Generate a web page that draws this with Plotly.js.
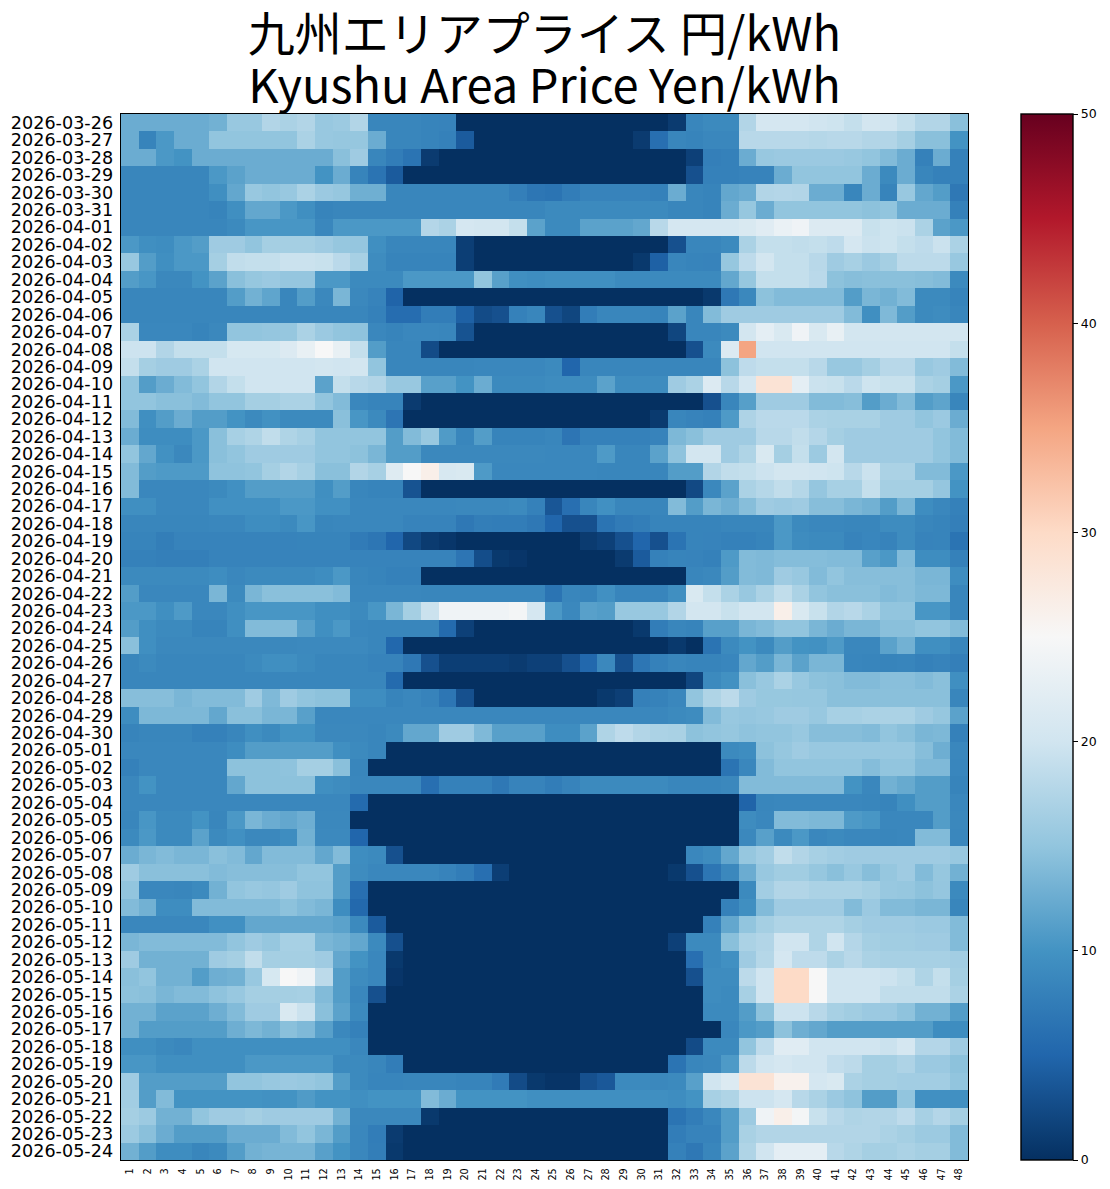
<!DOCTYPE html>
<html><head><meta charset="utf-8">
<script src="https://cdn.plot.ly/plotly-3.0.1.min.js"></script>
<style>html,body{margin:0;padding:0;background:#fff}#c{width:1110px;height:1189px}</style>
</head><body><div id="c"></div>
<script>
const hours = ['1','2','3','4','5','6','7','8','9','10','11','12','13','14','15','16','17','18','19','20','21','22','23','24','25','26','27','28','29','30','31','32','33','34','35','36','37','38','39','40','41','42','43','44','45','46','47','48'];
const dates = ['2026-03-26','2026-03-27','2026-03-28','2026-03-29','2026-03-30','2026-03-31','2026-04-01','2026-04-02','2026-04-03','2026-04-04','2026-04-05','2026-04-06','2026-04-07','2026-04-08','2026-04-09','2026-04-10','2026-04-11','2026-04-12','2026-04-13','2026-04-14','2026-04-15','2026-04-16','2026-04-17','2026-04-18','2026-04-19','2026-04-20','2026-04-21','2026-04-22','2026-04-23','2026-04-24','2026-04-25','2026-04-26','2026-04-27','2026-04-28','2026-04-29','2026-04-30','2026-05-01','2026-05-02','2026-05-03','2026-05-04','2026-05-05','2026-05-06','2026-05-07','2026-05-08','2026-05-09','2026-05-10','2026-05-11','2026-05-12','2026-05-13','2026-05-14','2026-05-15','2026-05-16','2026-05-17','2026-05-18','2026-05-19','2026-05-20','2026-05-21','2026-05-22','2026-05-23','2026-05-24'];
const d0326=[12.5,12.5,12.5,12.5,12.5,13,15.5,15.5,17.5,17,17.5,15.5, 15.8,17.5,8.5,8.5,8.5,8.3,8.2,0,0,0,0,0, 0,0,0,0,0,0,0,1,8.5,9,9,17.5, 20.5,20.5,20.5,20,19.8,19,20.2,20,19,17.5,17.5,14.5];
const d0327=[12.5,8.3,10.5,12.5,12.5,15,15,15,15,15,17,15.5, 15.3,15.3,12.5,8.5,8.5,8.3,8,4,0,0,0,0, 0,0,0,0,0,1,6,8.5,8.3,8.7,8.7,18, 18,18,18,17.8,18,18,17.5,17.5,16.5,14.5,14.5,10];
const d0328=[12.5,12.5,10.5,10,12.5,12.5,12.5,12.5,12.5,12.5,12.5,12.5, 14.5,16,8.5,7.5,6.5,1,0,0,0,0,0,0, 0,0,0,0,0,0,0,0,1.5,7.8,8,12.5, 15.5,15.7,15.7,15.7,15.7,15.5,15,14,12.5,8,12.5,8];
const d0329=[8.5,8.5,8.5,8.5,8.5,10.5,11.5,12.5,12.5,12.5,12.5,10, 12.5,8.3,6.5,4,0,0,0,0,0,0,0,0, 0,0,0,0,0,0,0,0,3,8,8,8.2, 8.2,12.5,15,15,15,15,12.5,9,12.5,8.5,8,8];
const d0330=[8.5,8.5,8.5,8.5,8.5,9.5,12,15.5,15,15.5,17,15.7, 15.3,12.8,12.8,8.5,8.5,8.5,8.5,8.5,8.5,8.5,7.8,6.8, 6.5,7.5,8.2,8.2,8.2,8.2,8,12.5,8.5,8.3,12,12.5, 17.5,17.7,17.5,12.5,12.5,8.5,12.5,8.3,15.5,12,11,7];
const d0331=[8.5,8.5,8.5,8.5,8.5,8.3,9.5,12,12,10.5,9.5,8.3, 8.5,8.5,8.5,8.5,8.5,8.5,8.5,8.5,8.5,8.5,8.5,8.5, 9,9,9,9,9,9,9,8.5,8.5,8.3,12.5,15.3, 12.5,15,15,15,15,15,14.7,15,12.5,12.5,12.5,8];
const d0401=[8.5,8.5,8.5,8.5,8.5,8.5,9,10.3,10.3,10.3,10.3,8.7, 10.5,10.5,10.5,10.5,10.5,17.7,17,20.5,20.2,20.2,19,11.5, 9,9,11.5,11.5,11.5,12,18,20.5,20.5,20.5,20.5,21, 22,23.3,24,21.5,21.5,21.5,19.3,19.8,19.5,17,11.5,10.5];
const d0402=[10.5,9.5,9.3,10.5,11,16,16,15,16.5,16.5,16.5,16, 15.3,15.2,9.5,8.5,8.5,8.5,8.5,1.3,0,0,0,0, 0,0,0,0,0,0,0,3,8.5,8.5,9,17, 19,19,18.7,19,18.5,20.5,19.5,19.8,19,18.5,19.5,17];
const d0403=[15.5,11,9.5,10.5,10.5,16.5,18.7,19,19,19.5,19.5,19.3, 18.2,16.7,9.2,8.3,8.3,8.3,8.3,1.3,0,0,0,0, 0,0,0,0,0,.8,4.5,8.5,8.3,8.2,15.3,18.5, 20.2,19,19,18,16,16.7,15.7,16.5,18.3,18.3,18.3,15.5];
const d0404=[11,10.3,8.8,8.8,10,11.5,14.5,15.3,15.7,15.2,15.2,10.5, 10.5,9,9,9,10.5,10.5,10.5,10.5,15,11.3,9.5,9.3, 9.5,9.5,9.5,9.5,9,9,9,9,9,9,12,15.3, 19,19,19,18.2,14.7,14.3,14.5,14.5,14.5,14.3,14,9];
const d0405=[8.5,8.5,8.5,8.5,8.5,8.5,11,13,11.8,8.5,11,8.8, 13.5,8.8,8.2,4.8,0,0,0,0,0,0,0,0, 0,0,0,0,0,0,0,0,0,.8,7,8.8, 14.7,14,14,14,14,11,13.5,13,14,9,9,8.3];
const d0406=[8.5,8.5,8.5,8.5,8.5,8.5,8.5,8.5,8.5,8.5,8.5,8.5, 8.5,8.5,8,5.8,5.8,7.5,7.5,4.5,2.5,3,8,8.5, 3,2,7.5,8.5,8.5,8.5,8.3,11.5,8.5,14,16,16, 16,16,16,16,16,14,9.5,13.8,11,9,9.2,8.5];
const d0407=[17,8.7,8.7,8.7,8.3,8.8,15,15,15.2,15.3,17,15.7, 15,14.8,8.7,8.3,8.7,8.7,8.5,3.2,0,0,0,0, 0,0,0,0,0,0,0,2,8.5,8.5,9,20.3, 22.5,21,24,21,23,20.3,20.3,20.3,20.3,20.3,20.3,20.3];
const d0408=[19.7,19.7,17.5,19,19,19,20.7,20.7,20.7,21.5,23,25, 23,19,11,8.5,8.5,2.5,0,0,0,0,0,0, 0,0,0,0,0,0,0,0,3,9,21.5,35, 20,20,20,20,20,20,20,20,20,20,20,19];
const d0409=[19,16.5,16,16,17,20,20,20,20,20,20,20.2, 20,20.2,15,8.5,8.5,8.5,8.5,8.5,8.7,8.7,8.7,8.7, 9,5,8.5,8.5,8.5,8.5,8.5,8.5,8.5,8.5,14.7,18.5, 19,19,19,18,15.5,15.5,16.5,18,18,15.5,16,14];
const d0410=[15,11,12.5,14,15,17.5,19,20,20,20,20,11.5, 19,18,17.5,15.5,15.5,11.3,11.3,10,12.5,9,9,9, 9.2,9.2,9.2,11.5,9.2,9.2,9.2,16,17,21.5,18,20.5, 28.5,28.5,22.5,19.5,19.3,18.2,19.8,19.3,19.3,17,16.5,10.5];
const d0411=[15,15,14.5,14.5,14,15,15,16.5,16.5,17,17,15, 14,8.7,8.3,8.3,1,0,0,0,0,0,0,0, 0,0,0,0,0,0,0,0,0,3,8.5,11.2, 16,16,16,14,14,14.3,11,12.5,14,11,11.7,8.5];
const d0412=[14,9.5,11,12.5,11,11,10,9,9.8,9,9,9, 14.5,10.3,9,6.7,0,0,0,0,0,0,0,0, 0,0,0,0,0,0,.9,8.5,8.2,8,10.7,17.2, 18.2,18.2,18.2,17,16.8,16.8,16.8,16,16,15,15.7,12.5];
const d0413=[12.5,9.3,9.3,9.3,10.5,14.5,16.7,17.3,18.7,17.3,16.7,15, 15,15,15,11,14,15.5,10.8,8.5,11,8.3,8.3,8.3, 8.5,6.7,8,8,8,8,8.2,13.7,14.5,16,16,16, 18,18,18.7,17.7,16.5,16,16,16,16,16,15,14];
const d0414=[15,12,9.8,8.8,10.5,14.5,15,16,16,16,16,15, 15,14.7,13.5,11,11,8.8,8.8,8.8,8.8,8.8,8.8,8.8, 8.7,8.7,8.7,10.7,8.5,8.5,11.5,14.8,20.3,20.3,16,17.3, 21,16.5,19,15.8,20.3,16,16,16,16,16,15,14];
const d0415=[14,11,10.7,10.7,10.7,14.8,14.8,15,16.5,17.5,16.7,14.5, 14.5,17.5,16.7,21.7,25,26.5,20.8,21,10.7,8.7,8.7,8.7, 8.7,8.7,8.7,8.5,8.5,8.5,8.5,11,11,17.5,18.7,19, 19.7,20.3,20.3,20,19.8,18,19.5,17,17,14,14,10.5];
const d0416=[14,8.7,8.7,8.7,8.7,9,9.7,11,11,11,11,9.5, 11,8.5,8.3,8.3,3.2,0,0,0,0,0,0,0, 0,0,0,0,0,0,0,0,2.3,8.8,11.5,17, 17.8,18.7,17.8,15.2,16.7,16.7,19,16.5,16.5,16.5,15.2,10];
const d0417=[9.5,9.5,8.7,8.7,8.7,9.7,9.7,9.7,9.7,10.5,10.5,9.7, 9.7,8.7,8.7,8.7,8.7,8.7,8.7,8.8,8.8,8.8,9,8, 3.5,6,8.5,9.7,8.5,8.5,8.5,14,11,13.5,12.7,14.3, 16,15.7,16,14.3,14.3,13.5,13,11,13.5,9.3,8.7,8];
const d0418=[8.5,8.5,8.5,8.5,8.5,8.7,8.7,9.3,9.3,9,10.3,8.5, 8.7,8.7,8.7,8.7,8.2,8.2,8.2,7,7.7,7.5,7.5,7, 5,3,3,6.5,7.3,7.7,8.3,8.3,8.3,8.3,8.5,8.5, 8.5,10.5,9,8.7,8.7,8.5,8.5,9.2,9.2,8.5,8.3,7.8];
const d0419=[8.3,8.3,7.7,8.2,8.2,8.2,8.2,8.2,8.2,8.2,8.3,8.3, 8.3,7.3,6.8,5,2.2,1,.6,0,0,0,0,0, 0,0,1,1.5,3,5,3,6.5,8.3,8.2,8,8, 8.3,10.5,9.2,9,9,8.2,8.6,8.2,9.2,8.2,8.3,6.5];
const d0420=[8,8,7.8,7.8,7.8,8.2,8.2,8.2,8.2,8.2,8.2,8.2, 8.2,8.2,8.2,8.2,8.2,8.2,8.2,6.7,2.7,.8,.5,0, 0,0,0,0,1,4,8,8.3,8.2,8,10.7,14, 13.8,14.2,14.2,14.2,14,14,11.3,10.5,14,9.3,9.3,8];
const d0421=[9,9,9,9,9,9.3,8.7,9,9,9,9,9.3, 10.5,8.5,8.3,8,8,0,0,0,0,0,0,0, 0,0,0,0,0,0,0,0,8.5,8.8,11,14, 13.8,16,15.5,14,15,14.3,14.3,14.3,14.3,13.5,13.5,9.3];
const d0422=[11,8.7,8.7,8.7,8.7,13.5,9,13.5,14.5,14.5,14.5,14.5, 14,8.7,8.7,8.7,8.7,8.5,8.5,8.5,8.5,8.5,8.5,8.5, 6.5,8.5,8.3,9.7,8.4,8.4,8.4,9.5,21,19,17,15.5, 17,18.7,17,15,14.5,14.5,14.5,14,14.3,13.7,13.7,8.5];
const d0423=[10.5,10.5,9.5,10.7,8.7,8.7,9.5,10.3,10.3,10.3,10.3,9.5, 9.5,9,10.3,13.5,16.5,19.5,24,24,24,24,24.5,20.5, 10.5,8.8,11.3,11,15.5,15.5,15.5,17.5,20.3,20.3,19.3,20.3, 20.3,26.5,21,19.3,17.5,18,17,15,15,10.3,10.3,8.5];
const d0424=[11,9.5,9,9,8.3,8.3,9.5,14,14,14,11.3,9.5, 10.5,8.7,8.5,8.5,8.5,8.5,5.5,1.5,0,0,0,0, 0,0,0,0,0,.8,7.5,8.5,8.3,11.3,11.3,13.5, 14,15,15,13.5,12.5,13.5,13.5,14.5,14.5,15,15,14];
const d0425=[14.5,9.5,8.8,8.8,8.8,8.8,8.8,8.8,8.8,8.8,8.9,8.9, 8.9,8.9,8.5,5.2,0,0,0,0,0,0,0,0, 0,0,0,0,0,0,0,.8,0,6.5,9,10, 9,11,10,9.8,10.7,8.7,8.7,11.5,13,9.5,9.5,8.5];
const d0426=[8.5,9,8.5,8.5,8.5,8.5,8.5,9,9.5,9.5,9,8.5, 8.5,8.5,8.2,8.2,7,3,1.3,1.3,1.3,1.3,1,1.5, 1.5,3,5.2,8.8,3,6.8,8,8.5,8.3,8.3,8.6,12, 11,13.5,11.5,13.5,13.5,8.6,8.4,8.3,8.4,8,8.2,7.8];
const d0427=[8.5,8.5,8.5,8.5,8.5,8.5,8.5,8.5,8.5,8.5,8.5,8.5, 8.5,8.5,8.5,5.5,0,0,0,0,0,0,0,0, 0,0,0,0,0,0,0,0,2,9,9.8,14.5, 15.5,17,15.5,14.7,14.5,14,14,14.4,14.4,14,14.5,9.5];
const d0428=[14.3,14.3,14.3,13.5,14,14,14,16,13.8,16,15,14.7, 14.7,9.3,9.3,8.3,8.7,8.2,6.8,3,0,0,0,0, 0,0,0,.8,1.4,7.9,8.1,8.7,15,17.3,18.3,16, 15.4,15.4,15.3,15.3,14.5,14.5,14.5,14.5,14.5,14.5,14.5,8.5];
const d0429=[9.3,13.7,13.7,13.7,13.7,12,14.5,14.5,13.5,13.5,11.3,8.7, 8.7,8.7,8.7,8.7,8.7,8.7,8.7,8.7,8.7,8.7,8.7,8.7, 8.7,8.7,8.7,8.7,8.7,8.7,8.7,9,9.2,14,15.5,15.2, 15.5,16,16,15.5,16.7,16.7,17,17,17,16,15.3,11.5];
const d0430=[8.3,8.5,8.5,8.5,8,8,8.5,9.5,9,10,10,8.8, 8.8,8.8,8.5,9,12,12,16,16,13.8,11.3,11.3,11.3, 9.3,9.3,11.5,17.3,18.5,17.5,17,16.8,14.7,15,15.3,14.8, 15,15,15.5,14.3,14.3,14.3,14,15,14.5,13.5,13.7,8];
const d0501=[8.7,8.7,8.7,8.7,8.7,8.7,9.3,11,11,11,11,11, 9.5,9,8.5,0,0,0,0,0,0,0,0,0, 0,0,0,0,0,0,0,0,0,0,9,9.3, 14.7,15.3,16,15.5,15.5,15.5,15.5,15.5,15.5,14.3,12.7,8.7];
const d0502=[8,8.7,8.7,8.7,8.7,8.7,14.7,14.7,14.7,14.8,16.5,16.5, 14.5,8.5,0,0,0,0,0,0,0,0,0,0, 0,0,0,0,0,0,0,0,0,0,6.5,8.7, 14,15,15,15,15,15,14.2,15,15,13.8,13.8,8.6];
const d0503=[8.7,10,8.7,8.7,8.7,8.7,12,14.7,14.7,14.7,14.7,9.5, 9.2,8.7,8.7,8.7,8.7,6,8,8,8,7,8.2,8.2, 7.5,8.2,9,9,9,9,9,8.5,8.5,8.5,8.8,14, 14,14,14,14,14,10,8.7,13,12.3,11,11,8.3];
const d0504=[8.7,8.7,8.7,8.7,8.7,8.7,8.7,8.7,8.7,8.7,8.7,8.7, 8.7,5.5,0,0,0,0,0,0,0,0,0,0, 0,0,0,0,0,0,0,0,0,0,0,4.8, 8.5,8.7,8.7,8.7,8.7,8.7,8.5,8.3,9.5,11,11,8.7];
const d0505=[8.5,10.3,9,9,10,8.5,10.5,13.5,12.5,12,12.7,8.8, 8.8,0,0,0,0,0,0,0,0,0,0,0, 0,0,0,0,0,0,0,0,0,0,0,9.2, 8.7,14,14,13.7,13.7,10.7,10.3,8.7,8.7,8.7,11,8.8];
const d0506=[9,10.5,9,9,11.5,9,9.7,8.8,8.8,9.3,13,8.9, 8.9,5,0,0,0,0,0,0,0,0,0,0, 0,0,0,0,0,0,0,0,0,0,0,8.8, 11.3,9,10.5,8.7,9,8.7,8.7,8.5,8.7,14,14,8.7];
const d0507=[12.5,13.5,14,13.5,13.5,14.5,14,12,14,14,14,12, 14,9.3,9,3,0,0,0,0,0,0,0,0, 0,0,0,0,0,0,0,0,8.7,9.2,12,15.3, 16.3,18.7,17.5,16.7,16.3,16,16,16,16,16,16,15.5];
const d0508=[16,14.5,14.5,14.5,14.5,14,14.3,14.3,14.3,14.3,15,15, 11,9.2,8.7,8.7,8.7,8.7,8.2,7.5,6,1.3,0,0, 0,0,0,0,0,0,0,.8,3,6.8,8.8,12.5, 15.5,16.2,16.2,15.3,14.5,15.5,14.3,15.3,16,14,15.3,13];
const d0509=[15,8.7,8.7,8.5,9,13,15,15.5,15.2,16,14.8,14.8, 11,6,0,0,0,0,0,0,0,0,0,0, 0,0,0,0,0,0,0,0,0,0,0,9, 16.3,17.5,17.5,17,17,17,16.5,15.5,15.3,14.7,15.2,9];
const d0510=[14,13,9.3,9.3,14,14,14,14,14,14.7,14,13.5, 9.3,5.3,0,0,0,0,0,0,0,0,0,0, 0,0,0,0,0,0,0,0,0,0,8,9.5, 14,16,16,16,16,14,15.7,14,14,13.5,13.5,8.5];
const d0511=[8.7,8.7,8.7,8.7,8.7,9.7,9.7,12,12,12,12,12, 11.5,9,4,0,0,0,0,0,0,0,0,0, 0,0,0,0,0,0,0,0,0,8,12,15, 16.5,17.3,17.3,17.3,17.3,16.5,16,16,16,15.7,15.7,14];
const d0512=[13.5,14,14,14,14,14,15,16,15.3,16.7,16.7,13.5, 13,12,9,3,0,0,0,0,0,0,0,0, 0,0,0,0,0,0,0,1.5,9,9,14.5,17, 17.5,20,20,17.3,20,17.7,16.5,16.2,16.2,16,16,14];
const d0513=[16,13,13,13,13,16,16.5,18.7,16.5,16.5,16.5,16, 12,10,8.7,.8,0,0,0,0,0,0,0,0, 0,0,0,0,0,0,0,0,6,9,9.7,16, 17.8,20.5,18.5,18.5,17,18,17,16.7,16.7,16.7,16.7,16.3];
const d0514=[14.5,15,13,13,11,12.7,13,15.5,20.7,25,24,18.3, 11,9.2,8.7,.5,0,0,0,0,0,0,0,0, 0,0,0,0,0,0,0,0,3,9.2,9.2,18.3, 20,30,30,25,20,20,20,19.7,19,17.3,19,16.5];
const d0515=[14.7,14.5,13.5,14,14,14.8,15.5,16.5,16.5,16.5,16.7,14, 11,8.7,3,0,0,0,0,0,0,0,0,0, 0,0,0,0,0,0,0,0,0,9.2,9,16.7, 20,30,30,25,20,20,20,18.7,18.7,18.7,18.7,17];
const d0516=[13,13,11.5,11.5,11.5,12.7,14,16,16,21,19.5,14.5, 11.5,9,0,0,0,0,0,0,0,0,0,0, 0,0,0,0,0,0,0,0,0,9,9,11, 14.7,19.7,19.7,18,16.7,16.2,15.7,15.7,14.8,13,13,11];
const d0517=[13,11,11,11,11,11,12.7,13.7,13,14.5,13.8,11.3, 8.8,8,0,0,0,0,0,0,0,0,0,0, 0,0,0,0,0,0,0,0,0,0,8.7,10.5, 11,14.7,12.7,12,11,11,11,11,11,11,9.3,9.3];
const d0518=[9.5,9.5,9,8.7,9.5,9.5,9.5,9.5,9.5,9.5,9.5,9.5, 9.5,8.7,0,0,0,0,0,0,0,0,0,0, 0,0,0,0,0,0,0,0,2.5,9,9,15, 18.5,22,22,20,20,20,20,19.5,20.5,17.7,17.7,16];
const d0519=[10.3,10.3,9.5,9.5,9.5,9.5,9.5,10.5,10.5,10.5,10.5,10.5, 9,9,8.5,7.5,0,0,0,0,0,0,0,0, 0,0,0,0,0,0,0,6.5,8.5,8.8,10.7,18.3, 20,20.5,20,20,18.8,18.3,16.5,16.5,17.2,15.7,15.7,14.7];
const d0520=[16,11,11,11,11,11,15,15,15.5,15.7,15.5,15, 11,9,8.4,8.4,8.5,8.5,8.5,8.3,8.3,7.3,2.5,.8, .4,.4,3,3.7,9,9,8.8,9,11.3,20,21.5,28.5, 28.5,26,26,20.5,21,17,16.5,16.5,16.3,16.3,16.3,15];
const d0521=[16.3,11,14,10,10,10,10,10,9.8,10,10.8,10, 10,9.5,10,10,10,14,12.5,10,10,10,10,9.5, 9.5,9.5,9.5,9.5,9.5,9.5,9.5,9.3,10,16.7,17.3,19.7, 19.7,20.5,18,17,15.7,14.8,11,11,15,9.7,9.7,9.7];
const d0522=[16.5,15.8,13,13,15,16,16,16.5,16,16,16,16, 13,8.8,8.8,8.8,8.8,.8,0,0,0,0,0,0, 0,0,0,0,0,0,0,6.5,7.5,8.7,11,15.8, 24,26.5,24.5,19.3,18,17.3,17.5,17.5,18.5,16.7,17.7,16.5];
const d0523=[15.8,14.5,12.5,11,11,11,12.5,12.5,12.5,14,15,13.5, 11,8.7,7.5,1,0,0,0,0,0,0,0,0, 0,0,0,0,0,0,0,7.5,8.2,8.2,11,16.8, 17.5,17.5,17.5,17.5,17.5,17.5,17.5,17,16.5,15.8,15.8,14];
const d0524=[13,11,9.3,9.3,8.5,9,11,13,13.3,13.3,13.3,11.3, 10,8.7,7.7,.8,0,0,0,0,0,0,0,0, 0,0,0,0,0,0,0,8,7,8.5,11.5,17.3, 20,22.5,22.5,22.5,18,17.3,16.5,16.5,17,16.5,16.5,14];
const prices=[d0326,d0327,d0328,d0329,d0330,d0331,d0401,d0402,d0403,d0404,d0405,d0406,d0407,d0408,d0409,d0410,d0411,d0412,d0413,d0414,d0415,d0416,d0417,d0418,d0419,d0420,d0421,d0422,d0423,d0424,d0425,d0426,d0427,d0428,d0429,d0430,d0501,d0502,d0503,d0504,d0505,d0506,d0507,d0508,d0509,d0510,d0511,d0512,d0513,d0514,d0515,d0516,d0517,d0518,d0519,d0520,d0521,d0522,d0523,d0524];
prices.forEach((r,i)=>{if(r.length!==48)throw new Error('row '+dates[i]+' has '+r.length);});
const colorStops=[[0,'#053061'],[.1,'#2166ac'],[.2,'#4393c3'],[.3,'#92c5de'],[.4,'#d1e5f0'],[.5,'#f7f7f7'],[.6,'#fddbc7'],[.7,'#f4a582'],[.8,'#d6604d'],[.9,'#b2182b'],[1,'#67001f']];
const fontLatin='"DejaVu Sans"';
const titleText='<span style="font-size:47px">九州エリアプライス 円/kWh</span><br><span style="font-size:47px">Kyushu Area Price Yen/kWh</span>';
Plotly.newPlot('c',[{type:'heatmap',x:hours,y:dates,z:prices,zmin:0,zmax:50,colorscale:colorStops,
 colorbar:{thickness:52,thicknessmode:'pixels',len:1,lenmode:'fraction',x:1.0626,xanchor:'left',xpad:0,y:.5,yanchor:'middle',ypad:0,outlinecolor:'#000',outlinewidth:1.4,
  tickmode:'array',tickvals:[0,10,20,30,40,50],ticktext:['0','10','20','30','40','50'],ticks:'outside',ticklen:5,tickwidth:1,tickcolor:'#000',tickfont:{family:fontLatin,size:12.5,color:'#000'}}}],
 {width:1110,height:1189,margin:{l:121,r:142,t:114,b:29,pad:0},paper_bgcolor:'#fff',plot_bgcolor:'#fff',showlegend:false,
  title:{text:titleText,x:.5,xref:'paper',xanchor:'center',y:.9575,yref:'container',yanchor:'top',font:{family:'"Noto Sans CJK JP"',size:40,color:'#000'}},
  xaxis:{type:'category',tickmode:'array',tickvals:hours,ticktext:hours,tickangle:-90,tickfont:{family:fontLatin,size:9.7,color:'#000'},ticks:'',showline:true,mirror:true,linecolor:'#000',linewidth:1.4,showgrid:false,zeroline:false,ticklabelstandoff:3,fixedrange:true},
  yaxis:{type:'category',autorange:'reversed',tickmode:'array',tickvals:dates,ticktext:dates,tickfont:{family:fontLatin,size:17.6,color:'#000'},ticks:'',showline:true,mirror:true,linecolor:'#000',linewidth:1.4,showgrid:false,zeroline:false,ticklabelstandoff:3,fixedrange:true}},
 {displayModeBar:false,staticPlot:true});
</script></body></html>
